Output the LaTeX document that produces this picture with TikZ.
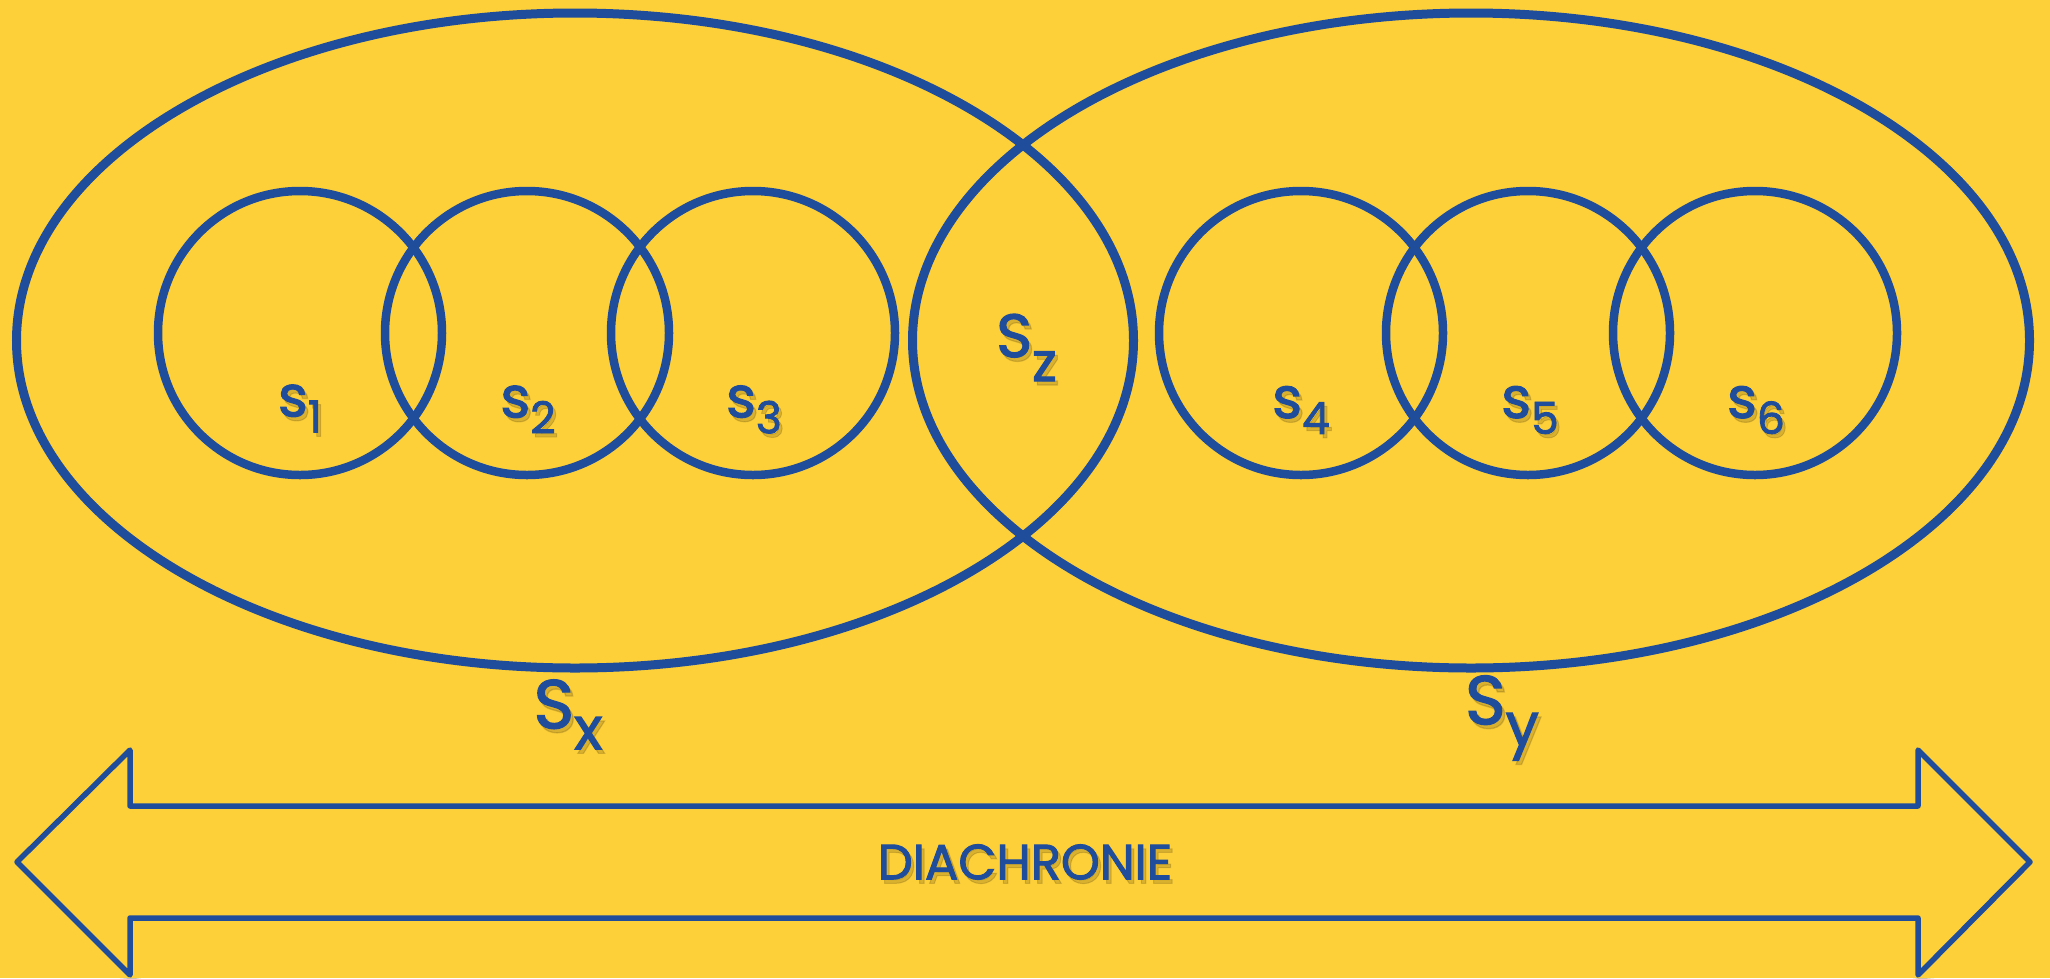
\documentclass[tikz,border=0pt]{standalone}
\usepackage{fontspec}
\setmainfont{Poppins}[FakeBold=2]
\usetikzlibrary{shapes.geometric,calc}
\definecolor{bgyellow}{HTML}{FDD03A}
\definecolor{dblue}{HTML}{1F4D9B}
\definecolor{shade}{HTML}{5A4508}
\pgfdeclarelayer{bg}
\pgfsetlayers{bg,main}
\tikzset{
  ring/.style={circle, draw=dblue, line width=8.5, inner sep=0, outer sep=0, minimum size=284},
  oval/.style={ellipse, draw=dblue, line width=9, inner sep=0, outer sep=0, minimum width=1117, minimum height=655},
  shA/.style={draw=shade, line width=16, opacity=0.08},
  shB/.style={draw=shade, line width=11, opacity=0.12},
  shC/.style={draw=shade, line width=7, opacity=0.16},
  lbl/.style={inner sep=0, outer sep=0, text=dblue},
  small/.style={lbl, font=\fontsize{57}{60}\selectfont},
  arrowbox/.style={draw=dblue, line width=5.5, line join=round},
}
\newcommand\shlabel[4]{%
  \node[#3, text=shade, opacity=0.22] at ($#2+(3,4)$) {#4};
  \node[#3] (#1) at #2 {#4};}
\newcommand\lowsub[3]{#1\raisebox{-#2pt}{#3}}
\newcommand\subfont{\fontsize{44}{44}\selectfont}
\begin{document}
\begin{tikzpicture}[x=1pt,y=-1pt]
\fill[bgyellow] (0,0) rectangle (2050,978);
\useasboundingbox (0,0) rectangle (2050,978);

% ellipses
\node[oval] (Sxe) at (575,340.5) {};
\node[oval] (Sye) at (1471,340.5) {};
% circles
\node[ring] (c1) at (300,333) {};
\node[ring] (c2) at (527,333) {};
\node[ring] (c3) at (753,333) {};
\node[ring] (c4) at (1301,333) {};
\node[ring] (c5) at (1528,333) {};
\node[ring] (c6) at (1755,333) {};

% arrow
\coordinate (lt) at (17,862);
\coordinate (rt) at (2030,862);
\draw[arrowbox] (lt) -- (130,750) -- (130,806) -- (1918,806) -- (1918,750) -- (rt)
  -- (1918,975) -- (1918,918) -- (130,918) -- (130,975) -- cycle;

\begin{pgfonlayer}{bg}
\foreach \s in {shA,shB,shC}{
  \foreach \n in {Sxe,Sye}{
    \draw[\s] ($(\n.center)+(3,5)$) ellipse [x radius=558.5, y radius=327.5];
  }
  \foreach \n in {c1,c2,c3,c4,c5,c6}{
    \draw[\s] ($(\n.center)+(3,5)$) circle [radius=142];
  }
  \draw[\s, line join=round] ($(lt)+(3,5)$) -- (133,755) -- (133,811) -- (1921,811) -- (1921,755) -- ($(rt)+(3,5)$)
    -- (1921,980) -- (1921,923) -- (133,923) -- (133,980) -- cycle;
}
\end{pgfonlayer}

% labels
\shlabel{l1}{(300,408.5)}{small}{\lowsub{s}{16}{\subfont 1}}
\shlabel{l2}{(528,409.5)}{small}{\lowsub{s}{16}{\subfont 2}}
\shlabel{l3}{(754,409.5)}{small}{\lowsub{s}{16}{\subfont 3}}
\shlabel{l4}{(1301,410)}{small}{\lowsub{s}{16}{\subfont 4}}
\shlabel{l5}{(1530,410)}{small}{\lowsub{s}{16}{\subfont 5}}
\shlabel{l6}{(1756,410)}{small}{\lowsub{s}{16}{\subfont 6}}
\shlabel{lz}{(1026.5,347.5)}{lbl}{\fontsize{61}{64}\selectfont\lowsub{S}{24}{\fontsize{54}{54}\selectfont z}}
\shlabel{lx}{(568,714.5)}{lbl}{\fontsize{69}{72}\selectfont\lowsub{S}{21}{\fontsize{59}{59}\selectfont x}}
\shlabel{ly}{(1502,718)}{lbl}{\fontsize{69}{72}\selectfont\lowsub{S}{21}{\fontsize{59}{59}\selectfont y}}
\shlabel{ld}{(1025,862)}{lbl}{\fontsize{49.5}{52}\selectfont DIACHRONIE}
\end{tikzpicture}
\end{document}
